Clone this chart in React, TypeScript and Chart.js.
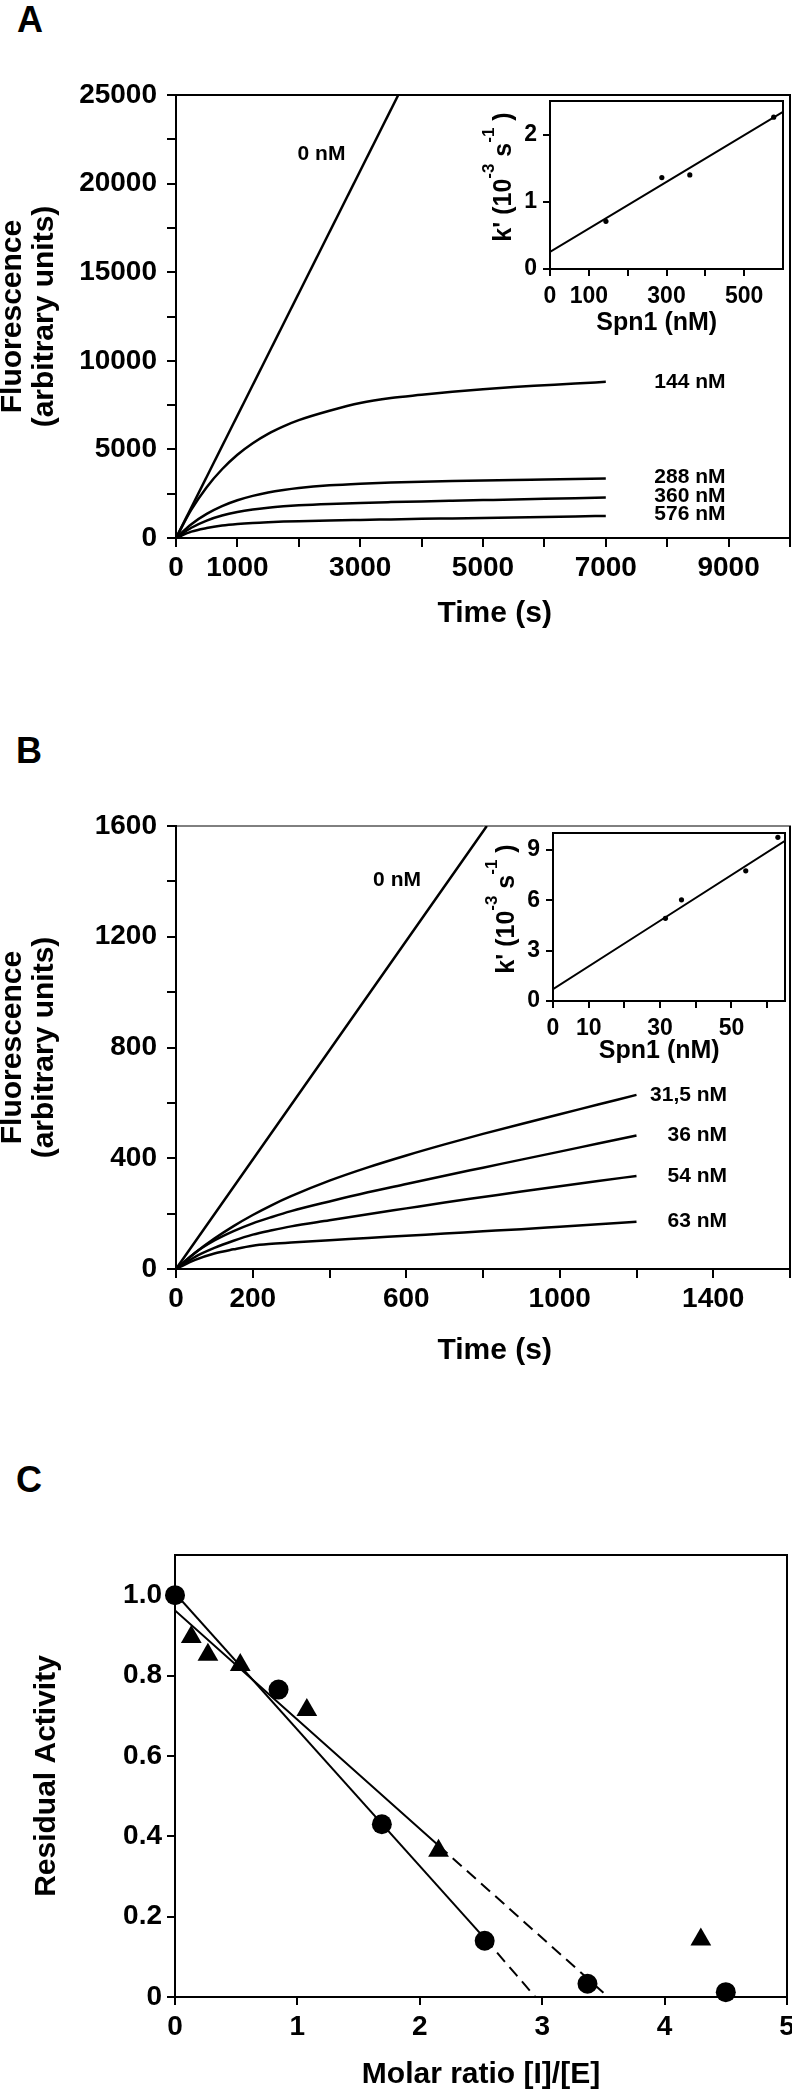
import React, { useEffect, useRef } from "react";
import { Chart, registerables } from "chart.js";

Chart.register(...registerables);

const FONT = "'Liberation Sans', Arial, Helvetica, sans-serif";
Chart.defaults.color = "#000";
Chart.defaults.font.family = FONT;

// ---------------- Panel A : fluorescence vs time ----------------
const timeA0 = [0, 3620];
const fluorA0 = [0, 25000];
const timeA = [0, 250, 500, 750, 1000, 1250, 1500, 1750, 2000, 2500, 3000, 3500, 4000, 4500, 5000, 5500, 6000, 6500, 7000];
const fluorA144 = [0, 1600, 2870, 3880, 4700, 5350, 5880, 6300, 6650, 7180, 7620, 7900, 8080, 8250, 8400, 8520, 8620, 8720, 8813];
const fluorA288 = [0, 780, 1360, 1800, 2130, 2378, 2567, 2709, 2821, 2973, 3068, 3132, 3179, 3216, 3248, 3276, 3302, 3329, 3356];
const fluorA360 = [0, 580, 984, 1266, 1465, 1607, 1709, 1785, 1843, 1924, 1981, 2026, 2066, 2103, 2139, 2175, 2210, 2245, 2280];
const fluorA576 = [0, 360, 560, 699, 790, 852, 895, 927, 952, 991, 1022, 1051, 1080, 1107, 1135, 1162, 1190, 1217, 1245];
const seriesNamesA = ["0 nM", "144 nM", "288 nM", "360 nM", "576 nM"];
const xTickLabelsA = [0, 1000, 3000, 5000, 7000, 9000];
const yTickLabelsA = [0, 5000, 10000, 15000, 20000, 25000];

// Inset A : k' vs Spn1
const spn1A = [144, 288, 360, 576];
const kA = [0.71, 1.36, 1.4, 2.26];
const fitSpn1A = [0, 600];
const fitKA = [0.253, 2.34];
const insetXTickLabelsA = [0, 100, 300, 500];
const insetYTickLabelsA = [0, 1, 2];

// ---------------- Panel B ----------------
const timeB0 = [0, 810];
const fluorB0 = [0, 1600];
const timeB = [0, 50, 100, 150, 200, 250, 300, 400, 500, 600, 700, 800, 900, 1000, 1100, 1200];
const fluorB315 = [0, 59, 110, 155, 195, 231, 263, 319, 367, 410, 450, 488, 524, 559, 594, 629];
const fluorB36 = [0, 59, 103, 137, 165, 188, 209, 244, 277, 307, 337, 366, 395, 424, 453, 482];
const fluorB54 = [0, 44, 76, 102, 124, 140, 154, 176, 198, 219, 240, 260, 280, 299, 318, 336];
const fluorB63 = [0, 33, 56, 71, 84, 91, 96, 104, 112, 120, 128, 136, 144, 153, 162, 171];
const seriesNamesB = ["0 nM", "31,5 nM", "36 nM", "54 nM", "63 nM"];
const xTickLabelsB = [0, 200, 600, 1000, 1400];
const yTickLabelsB = [0, 400, 800, 1200, 1600];

// Inset B
const spn1B = [31.5, 36, 54, 63];
const kB = [4.92, 6.02, 7.75, 9.74];
const fitSpn1B = [0, 65];
const fitKB = [0.7, 9.54];
const insetXTickLabelsB = [0, 10, 30, 50];
const insetYTickLabelsB = [0, 3, 6, 9];

// ---------------- Panel C ----------------
const ratioCircles = [0, 0.846, 1.69, 2.53, 3.37, 4.5];
const activityCircles = [1.0, 0.765, 0.43, 0.14, 0.033, 0.012];
const ratioTriangles = [0.133, 0.269, 0.533, 1.077, 2.153, 4.296];
const activityTriangles = [0.896, 0.852, 0.826, 0.714, 0.364, 0.143];
const fitCircleX = [0, 2.53, 2.944];
const fitCircleY = [1.005, 0.146, 0];
const fitTriangleX = [0, 2.153, 3.54];
const fitTriangleY = [0.962, 0.377, 0];
const xTickLabelsC = [0, 1, 2, 3, 4, 5];
const yTickLabelsC = [0, 0.2, 0.4, 0.6, 0.8, 1.0];

// ---------------- helpers ----------------
const pts = (xs: number[], ys: number[]) => xs.map((x, i) => ({ x, y: ys[i] }));
const last = (a: number[]) => a[a.length - 1];

type AxisSpec = {
  min: number;
  max: number;
  step: number;
  labels: number[];
  fmt?: (v: number) => string;
  tickLength: number;
  pad: number;
  fit: number;
  fontSize: number;
  dropMaxTick?: boolean;
  title?: string | string[];
  titleSize?: number;
  titleLH?: number;
  titlePad?: { top: number; bottom: number };
};

function axis(horizontal: boolean, s: AxisSpec): any {
  const fmt = s.fmt || ((v: number) => String(v));
  return {
    type: "linear",
    position: horizontal ? "bottom" : "left",
    min: s.min,
    max: s.max,
    afterFit: (scale: any) => {
      if (horizontal) scale.height = s.fit;
      else scale.width = s.fit;
    },
    afterBuildTicks: (scale: any) => {
      scale.ticks = scale.ticks.filter((t: any) => {
        const k = (t.value - s.min) / s.step;
        const limit = s.dropMaxTick ? t.value < s.max - 1e-9 : t.value <= s.max + 1e-9;
        return Math.abs(k - Math.round(k)) < 1e-6 && limit;
      });
    },
    ticks: {
      stepSize: s.step,
      includeBounds: false,
      autoSkip: false,
      maxRotation: 0,
      minRotation: 0,
      padding: s.pad,
      color: "#000",
      font: { family: FONT, size: s.fontSize, weight: "bold", lineHeight: 1 },
      callback: (v: any) => {
        const n = Number(v);
        return s.labels.some((l) => Math.abs(l - n) < 1e-6) ? fmt(n) : "";
      },
    },
    grid: {
      display: true,
      drawOnChartArea: false,
      drawTicks: true,
      tickLength: s.tickLength,
      tickWidth: 2,
      tickColor: "#000",
      color: "#000",
      lineWidth: 2,
    },
    border: { display: true, color: "#000", width: 2 },
    title: s.title
      ? {
          display: true,
          text: s.title,
          color: "#000",
          font: { family: FONT, size: s.titleSize, weight: "bold", lineHeight: s.titleLH ?? 1 },
          padding: s.titlePad,
        }
      : { display: false },
  };
}

function curve(data: any[], extra: any = {}) {
  return {
    data,
    showLine: true,
    borderColor: "#000",
    backgroundColor: "#000",
    borderWidth: 2.5,
    pointRadius: 0,
    pointHoverRadius: 0,
    cubicInterpolationMode: "monotone",
    fill: false,
    ...extra,
  };
}

function framePlugin(topWidth: number, sideWidth: number, full = false) {
  return {
    id: "frame",
    afterDraw(chart: any) {
      const { ctx, chartArea } = chart;
      const { left, top, right, bottom } = chartArea;
      ctx.save();
      ctx.strokeStyle = "#000";
      ctx.lineWidth = topWidth;
      ctx.beginPath();
      ctx.moveTo(left, top);
      ctx.lineTo(right + sideWidth / 2, top);
      ctx.stroke();
      ctx.lineWidth = sideWidth;
      ctx.beginPath();
      ctx.moveTo(right, top);
      ctx.lineTo(right, bottom);
      ctx.stroke();
      if (full) {
        ctx.beginPath();
        ctx.moveTo(left, top);
        ctx.lineTo(left, bottom);
        ctx.lineTo(right, bottom);
        ctx.stroke();
      }
      ctx.restore();
    },
  };
}

type LabelItem = { text: string; x: number; y: number; align: CanvasTextAlign };
function labelsPlugin(items: LabelItem[], size: number) {
  return {
    id: "seriesLabels",
    afterDatasetsDraw(chart: any) {
      const { ctx } = chart;
      const xs = chart.scales.x;
      const ys = chart.scales.y;
      ctx.save();
      ctx.font = `bold ${size}px ${FONT}`;
      ctx.fillStyle = "#000";
      ctx.textBaseline = "middle";
      items.forEach((it) => {
        ctx.textAlign = it.align;
        ctx.fillText(it.text, xs.getPixelForValue(it.x), ys.getPixelForValue(it.y));
      });
      ctx.restore();
    },
  };
}

// k' (10^-3 s^-1) rotated title with superscripts
function insetYTitlePlugin() {
  const parts = [
    { t: "k' (10", sup: false },
    { t: "-3", sup: true },
    { t: " s", sup: false },
    { t: "-1", sup: true },
    { t: " )", sup: false },
  ];
  const mainFont = `bold 25px ${FONT}`;
  const supFont = `bold 17px ${FONT}`;
  return {
    id: "insetYTitle",
    afterDraw(chart: any) {
      const { ctx, chartArea } = chart;
      ctx.save();
      const bx = chartArea.left - 39;
      const cy = (chartArea.top + chartArea.bottom) / 2 - 8;
      ctx.translate(bx, cy);
      ctx.rotate(-Math.PI / 2);
      let total = 0;
      parts.forEach((p) => {
        ctx.font = p.sup ? supFont : mainFont;
        total += ctx.measureText(p.t).width;
      });
      let xx = -total / 2;
      ctx.fillStyle = "#000";
      ctx.textBaseline = "alphabetic";
      ctx.textAlign = "left";
      parts.forEach((p) => {
        ctx.font = p.sup ? supFont : mainFont;
        ctx.fillText(p.t, xx, p.sup ? -17 : 0);
        xx += ctx.measureText(p.t).width;
      });
      ctx.restore();
    },
  };
}

const baseOptions = (padding: any) => ({
  animation: false,
  responsive: false,
  maintainAspectRatio: false,
  devicePixelRatio: 1,
  layout: { padding },
  events: [],
  plugins: { legend: { display: false }, tooltip: { enabled: false }, title: { display: false } },
});

// ---------------- chart builders ----------------
// main canvases are 800 px wide (the page crops at 792) so that the
// right edge of the plot area can sit at x = 790.
function buildA(): any {
  const labelX = 8950;
  return {
    type: "scatter",
    data: {
      datasets: [
        curve(pts(timeA0, fluorA0)),
        curve(pts(timeA, fluorA144)),
        curve(pts(timeA, fluorA288)),
        curve(pts(timeA, fluorA360)),
        curve(pts(timeA, fluorA576)),
      ],
    },
    options: {
      ...baseOptions({ top: 35, right: 10, left: 0, bottom: 0 }),
      scales: {
        x: axis(true, {
          min: 0, max: 10000, step: 1000, labels: xTickLabelsA, tickLength: 9, pad: 7, fit: 122, fontSize: 28,
          title: "\u2002 Time (s)", titleSize: 30, titleLH: 1, titlePad: { top: 0, bottom: 31 },
        }),
        y: axis(false, {
          min: 0, max: 25000, step: 2500, labels: yTickLabelsA, tickLength: 9, pad: 10, fit: 176, fontSize: 28,
          title: ["Fluorescence", "(arbitrary units)"], titleSize: 30, titleLH: 1.07, titlePad: { top: -3, bottom: 0 },
        }),
      },
    },
    plugins: [
      framePlugin(2, 2),
      labelsPlugin(
        [
          { text: seriesNamesA[0], x: 2370, y: 21680, align: "center" },
          { text: seriesNamesA[1], x: labelX, y: last(fluorA144), align: "right" },
          { text: seriesNamesA[2], x: labelX, y: last(fluorA288) + 80, align: "right" },
          { text: seriesNamesA[3], x: labelX, y: last(fluorA360) + 60, align: "right" },
          { text: seriesNamesA[4], x: labelX, y: last(fluorA576) + 80, align: "right" },
        ],
        21
      ),
    ],
  };
}

function buildInset(
  xs: number[], ys: number[], fx: number[], fy: number[],
  xMax: number, xStep: number, xLabels: number[],
  yMax: number, yStep: number, yLabels: number[],
  padding: any, yFit: number, xFit: number, titleBottom: number
): any {
  return {
    type: "scatter",
    data: {
      datasets: [
        { data: pts(xs, ys), showLine: false, pointRadius: 2.6, pointHoverRadius: 0, pointStyle: "circle",
          backgroundColor: "#000", borderColor: "#000", borderWidth: 0, clip: false },
        curve(pts(fx, fy), { borderWidth: 2 }),
      ],
    },
    options: {
      ...baseOptions(padding),
      scales: {
        x: axis(true, {
          min: 0, max: xMax, step: xStep, labels: xLabels, tickLength: 7, pad: 9, fit: xFit, fontSize: 23,
          dropMaxTick: true,
          title: "Spn1 (nM)\u2002 ", titleSize: 25, titleLH: 1, titlePad: { top: 0, bottom: titleBottom },
        }),
        y: axis(false, {
          min: 0, max: yMax, step: yStep, labels: yLabels, tickLength: 7, pad: 6, fit: yFit, fontSize: 23,
          dropMaxTick: true,
        }),
      },
    },
    plugins: [framePlugin(2, 2, true), insetYTitlePlugin()],
  };
}

function buildInsetA() {
  return buildInset(spn1A, kA, fitSpn1A, fitKA, 600, 100, insetXTickLabelsA, 2.5, 1, insetYTickLabelsA,
    { top: 18, right: 9, left: 0, bottom: 0 }, 110, 71, 4.5);
}
function buildInsetB() {
  return buildInset(spn1B, kB, fitSpn1B, fitKB, 65, 10, insetXTickLabelsB, 10, 3, insetYTickLabelsB,
    { top: 18, right: 7, left: 0, bottom: 0 }, 113, 69, 6);
}

function buildB(): any {
  const labelX = 1436;
  return {
    type: "scatter",
    data: {
      datasets: [
        curve(pts(timeB0, fluorB0)),
        curve(pts(timeB, fluorB315)),
        curve(pts(timeB, fluorB36)),
        curve(pts(timeB, fluorB54)),
        curve(pts(timeB, fluorB63)),
      ],
    },
    options: {
      ...baseOptions({ top: 36, right: 10, left: 0, bottom: 0 }),
      scales: {
        x: axis(true, {
          min: 0, max: 1600, step: 200, labels: xTickLabelsB, tickLength: 9, pad: 7, fit: 121, fontSize: 28,
          title: "\u2002 Time (s)", titleSize: 30, titleLH: 1, titlePad: { top: 0, bottom: 24 },
        }),
        y: axis(false, {
          min: 0, max: 1600, step: 200, labels: yTickLabelsB, tickLength: 9, pad: 10, fit: 176, fontSize: 28,
          title: ["Fluorescence", "(arbitrary units)"], titleSize: 30, titleLH: 1.07, titlePad: { top: -3, bottom: 0 },
        }),
      },
    },
    plugins: [
      framePlugin(1, 2),
      labelsPlugin(
        [
          { text: seriesNamesB[0], x: 576, y: 1403, align: "center" },
          { text: seriesNamesB[1], x: labelX, y: last(fluorB315), align: "right" },
          { text: seriesNamesB[2], x: labelX, y: last(fluorB36), align: "right" },
          { text: seriesNamesB[3], x: labelX, y: last(fluorB54), align: "right" },
          { text: seriesNamesB[4], x: labelX, y: last(fluorB63), align: "right" },
        ],
        21
      ),
    ],
  };
}

function buildC(): any {
  const dash = [12, 7];
  return {
    type: "scatter",
    data: {
      datasets: [
        { data: pts(ratioCircles, activityCircles), showLine: false, pointStyle: "circle", pointRadius: 10,
          pointHoverRadius: 0, backgroundColor: "#000", borderColor: "#000", borderWidth: 0, clip: false },
        { data: pts(ratioTriangles, activityTriangles), showLine: false, pointStyle: "triangle", pointRadius: 12,
          pointHoverRadius: 0, backgroundColor: "#000", borderColor: "#000", borderWidth: 0, clip: false },
        curve(pts(fitCircleX.slice(0, 2), fitCircleY.slice(0, 2)), { borderWidth: 2 }),
        curve(pts(fitCircleX.slice(1), fitCircleY.slice(1)), { borderWidth: 2, borderDash: dash }),
        curve(pts(fitTriangleX.slice(0, 2), fitTriangleY.slice(0, 2)), { borderWidth: 2 }),
        curve(pts(fitTriangleX.slice(1), fitTriangleY.slice(1)), { borderWidth: 2, borderDash: dash }),
      ],
    },
    options: {
      ...baseOptions({ top: 55, right: 23, left: 0, bottom: 0 }),
      scales: {
        x: axis(true, {
          min: 0, max: 5, step: 1, labels: xTickLabelsC, tickLength: 8, pad: 8, fit: 95, fontSize: 28,
          title: "Molar ratio [I]/[E]", titleSize: 30, titleLH: 1, titlePad: { top: 0, bottom: 2 },
        }),
        y: axis(false, {
          min: 0, max: 1.1, step: 0.2, labels: yTickLabelsC, tickLength: 8, pad: 5, fit: 175, fontSize: 28,
          fmt: (v: number) => (v === 0 ? "0" : v.toFixed(1)),
          title: "Residual Activity", titleSize: 30, titleLH: 1, titlePad: { top: 32, bottom: 0 },
        }),
      },
    },
    plugins: [framePlugin(2, 2)],
  };
}

// ---------------- components ----------------
function ChartCanvas(props: { left: number; top: number; width: number; height: number; build: () => any }) {
  const ref = useRef<HTMLCanvasElement | null>(null);
  useEffect(() => {
    if (!ref.current) return;
    const chart = new Chart(ref.current, props.build());
    return () => chart.destroy();
  }, []);
  return (
    <canvas
      ref={ref}
      width={props.width}
      height={props.height}
      style={{ position: "absolute", left: props.left, top: props.top, width: props.width, height: props.height }}
    />
  );
}

function PanelLetter(props: { text: string; left: number; top: number }) {
  return (
    <div
      style={{
        position: "absolute",
        left: props.left,
        top: props.top,
        fontFamily: FONT,
        fontWeight: "bold",
        fontSize: 36,
        lineHeight: "36px",
        color: "#000",
        margin: 0,
      }}
    >
      {props.text}
    </div>
  );
}

export default function App() {
  return (
    <div
      style={{
        position: "absolute",
        left: 0,
        top: 0,
        width: 792,
        height: 2092,
        overflow: "hidden",
        background: "#fff",
      }}
    >
      <PanelLetter text="A" left={17} top={2} />
      <PanelLetter text="B" left={16} top={733} />
      <PanelLetter text="C" left={16} top={1462} />
      <ChartCanvas left={0} top={60} width={800} height={600} build={buildA} />
      <ChartCanvas left={440} top={83} width={352} height={257} build={buildInsetA} />
      <ChartCanvas left={0} top={790} width={800} height={600} build={buildB} />
      <ChartCanvas left={440} top={815} width={352} height={255} build={buildInsetB} />
      <ChartCanvas left={0} top={1500} width={810} height={592} build={buildC} />
    </div>
  );
}
